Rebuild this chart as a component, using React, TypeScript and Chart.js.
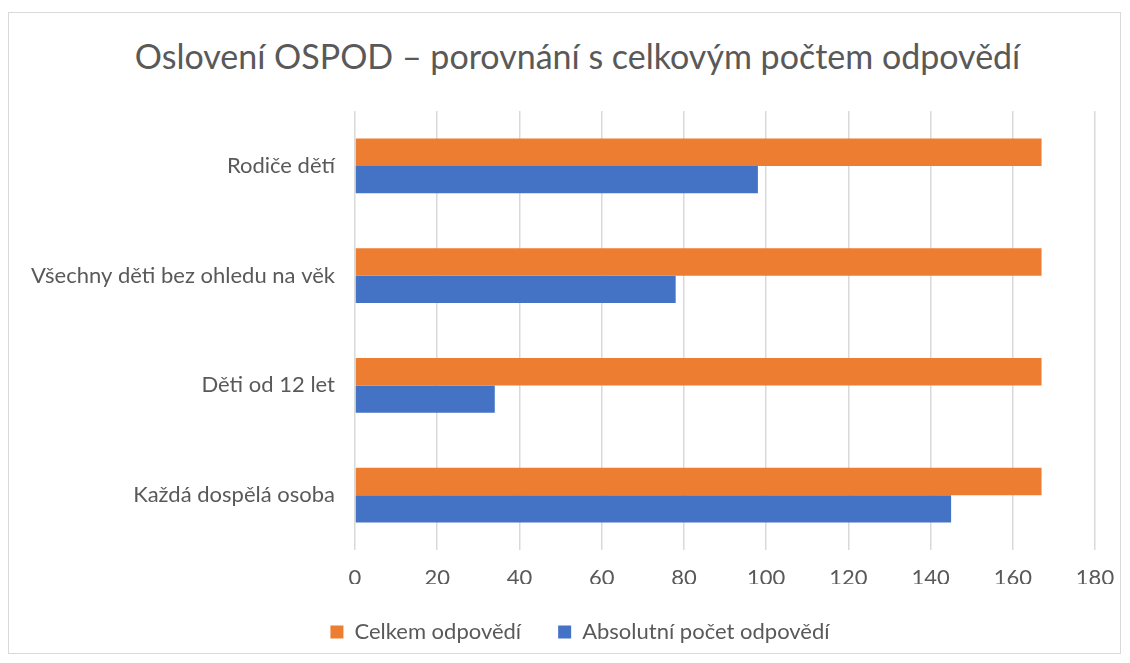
import React, { useEffect, useRef } from "react";
import { Chart, registerables } from "chart.js";

Chart.register(...registerables);

const categories = ["Rodiče dětí", "Všechny děti bez ohledu na věk", "Děti od 12 let", "Každá dospělá osoba"];
const totalValues = [167, 167, 167, 167];
const absoluteValues = [98, 78, 34, 145];
const seriesNames = ["Celkem odpovědí", "Absolutní počet odpovědí"];
const titleText = "Oslovení OSPOD – porovnání s celkovým počtem odpovědí";

const FONT = "Lato, 'Open Sans', sans-serif";
const TEXT = "#595959";

const legendShift = {
  id: "legendShift",
  afterLayout(chart: any) {
    const l = chart.legend;
    if (l) {
      l.left += 18;
      l.right += 18;
    }
  },
};

export default function App() {
  const ref = useRef<HTMLCanvasElement>(null);
  useEffect(() => {
    if (!ref.current) return;
    const chart = new Chart(ref.current, {
      type: "bar",
      data: {
        labels: categories,
        datasets: [
          { label: seriesNames[0], data: totalValues, backgroundColor: "#ED7D31", borderWidth: 0 },
          { label: seriesNames[1], data: absoluteValues, backgroundColor: "#4472C4", borderWidth: 0 },
        ],
      },
      plugins: [legendShift],
      options: {
        indexAxis: "y",
        animation: false,
        responsive: false,
        maintainAspectRatio: false,
        layout: { padding: { left: 20, right: 25, top: 12, bottom: 0 } },
        datasets: { bar: { categoryPercentage: 0.5, barPercentage: 1.0 } },
        plugins: {
          title: { display: false },
          legend: {
            position: "bottom",
            labels: {
              color: TEXT,
              font: { family: FONT, size: 22 },
              boxWidth: 13,
              boxHeight: 13,
              padding: 37,
            },
          },
          tooltip: { enabled: false },
        },
        scales: {
          x: {
            min: 0,
            max: 180,
            afterFit: (s: any) => {
              s.paddingLeft = 0;
              s.paddingRight = 0;
              s.height = 34;
            },
            ticks: { stepSize: 20, color: TEXT, font: { family: FONT, size: 22 }, padding: 15 },
            grid: { color: "#d9d9d9", lineWidth: 1.5, drawTicks: false },
            border: { display: false },
          },
          y: {
            afterFit: (s: any) => {
              s.paddingTop = 0;
              s.paddingBottom = 0;
              s.width = 326;
            },
            ticks: { color: TEXT, font: { family: FONT, size: 22 }, padding: 20 },
            grid: { display: false, drawTicks: false },
            border: { display: false },
          },
        },
      },
    });
    return () => chart.destroy();
  }, []);
  return (
    <div style={{ marginTop: 4, width: 1113, height: 642, border: "1px solid #d9d9d9", boxSizing: "border-box" }}>
      <div
        style={{
          height: 86,
          lineHeight: "86px",
          textAlign: "center",
          paddingLeft: 26,
          fontFamily: FONT,
          fontSize: 34,
          color: TEXT,
          whiteSpace: "nowrap",
        }}
      >
        {titleText}
      </div>
      <canvas ref={ref} width={1111} height={554} style={{ display: "block" }} />
    </div>
  );
}
